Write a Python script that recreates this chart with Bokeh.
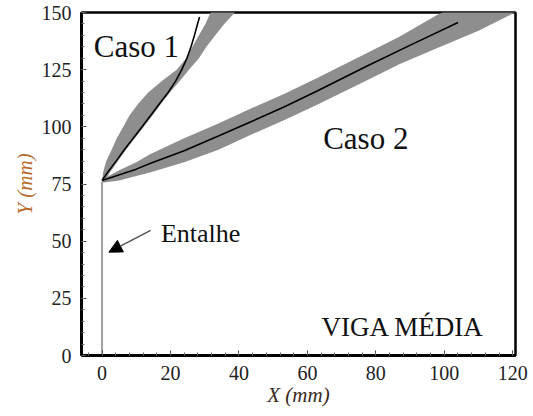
from bokeh.plotting import figure
from bokeh.models import Range1d, SingleIntervalTicker, Arrow, NormalHead, Label
from bokeh.embed import file_html
from bokeh.resources import INLINE

# ---- data (mm) ----
# Caso 1: mean crack path and scatter band (band given as x-limits per y)
caso1_line_x = [0, 1.6, 4.1, 6.5, 9.1, 11.7, 14.2, 16.7, 19.3, 21.5, 23.3, 24.8, 26.0, 27.0, 27.9, 28.5]
caso1_line_y = [76.5, 80, 85, 90, 95, 100, 105, 110, 115, 120, 125, 130, 135, 140, 145, 148]
caso1_band_y = [76, 80, 85, 90, 95, 100, 105, 110, 115, 120, 125, 130, 135, 140, 145, 150, 155]
caso1_band_left = [0, 0.3, 1.2, 2.8, 4.3, 6.2, 8.0, 10.5, 13.5, 17.5, 21.8, 24.6, 26.4, 28.3, 30.2, 31.7, 33.0]
caso1_band_right = [0.8, 2.3, 4.6, 7.0, 9.6, 12.2, 14.7, 17.2, 19.8, 22.7, 25.4, 28.3, 30.5, 33.1, 35.7, 38.8, 41.5]

# Caso 2: mean crack path and scatter band (band given as y-limits per x)
caso2_line_x = [0, 4, 10, 14, 24, 34, 43.5, 53.3, 63, 77, 91, 104]
caso2_line_y = [76.5, 78.5, 81.5, 84, 89.5, 96, 102.2, 108.8, 115.8, 126.3, 136.4, 145.6]
caso2_band_x = [0, 5, 10, 14, 24, 34, 43.5, 53.3, 63, 77, 87, 98, 110, 122]
caso2_band_upper = [77, 81, 84.5, 88, 95, 101.5, 108, 114.5, 121.5, 132, 139.5, 149, 158, 167]
caso2_band_lower = [75.5, 76.5, 78.5, 80, 84.5, 90, 96.5, 103, 109.8, 120, 127.5, 134.5, 142, 151]

# notch (entalhe)
notch_x = [0, 0]
notch_y = [0, 76]

# annotations
arrow_start = (14.2, 54.7)
arrow_end = (2.0, 45.2)
labels = [
    ("Caso 1", -2.4, 135.0, "31px"),
    ("Caso 2", 64.6, 94.9, "31px"),
    ("Entalhe", 17.2, 53.2, "26px"),
    ("VIGA MÉDIA", 64.1, 12.6, "27px"),
]

FONT = "'Liberation Serif', 'Times New Roman', serif"

p = figure(width=533, height=416, output_backend="svg", toolbar_location=None,
           x_range=Range1d(-6.0, 120.8), y_range=Range1d(0, 150))
p.min_border_left = 81
p.min_border_right = 18
p.min_border_top = 12
p.min_border_bottom = 61
p.background_fill_color = "white"
p.border_fill_color = "white"
p.outline_line_color = "black"
p.outline_line_width = 2.5
p.xgrid.visible = False
p.ygrid.visible = False

band_color = "#8e8e8e"
p.harea(y=caso1_band_y, x1=caso1_band_left, x2=caso1_band_right,
        fill_color=band_color, fill_alpha=1.0)
p.varea(x=caso2_band_x, y1=caso2_band_lower, y2=caso2_band_upper,
        fill_color=band_color, fill_alpha=1.0)
p.line(caso1_line_x, caso1_line_y, line_color="black", line_width=1.6)
p.line(caso2_line_x, caso2_line_y, line_color="black", line_width=1.6)
p.line(notch_x, notch_y, line_color="#a0a0a0", line_width=2)

p.add_layout(Arrow(end=NormalHead(size=13, fill_color="black", line_color="black"),
                   x_start=arrow_start[0], y_start=arrow_start[1],
                   x_end=arrow_end[0], y_end=arrow_end[1],
                   line_color="#555555", line_width=1.5))

for txt, lx, ly, fs in labels:
    p.add_layout(Label(x=lx, y=ly, text=txt, text_font=FONT, text_font_size=fs,
                       text_color="#111111", text_baseline="alphabetic", text_align="left"))

p.xaxis.ticker = SingleIntervalTicker(interval=20, num_minor_ticks=5)
p.yaxis.ticker = SingleIntervalTicker(interval=25, num_minor_ticks=5)
for ax in (p.xaxis, p.yaxis):
    ax.axis_line_width = 3
    ax.axis_line_color = "black"
    ax.major_tick_in = 5
    ax.major_tick_out = 0
    ax.minor_tick_in = 3
    ax.minor_tick_out = 0
    ax.major_tick_line_color = "#444444"
    ax.minor_tick_line_color = "#666666"
    ax.major_label_text_font = FONT
    ax.major_label_text_font_size = "20px"
    ax.major_label_text_color = "#222222"
    ax.axis_label_text_font = FONT
    ax.axis_label_text_font_style = "italic"
    ax.axis_label_text_font_size = "21px"

p.xaxis.axis_label = "X (mm)"
p.yaxis.axis_label = "Y (mm)"
p.xaxis.axis_label_text_color = "#3c2a1e"
p.yaxis.axis_label_text_color = "#b86a28"
p.xaxis.major_label_standoff = 10
p.yaxis.major_label_standoff = 10
p.xaxis.axis_label_standoff = 0
p.yaxis.axis_label_standoff = 2

open("out.html", "w").write(file_html(p, INLINE))
